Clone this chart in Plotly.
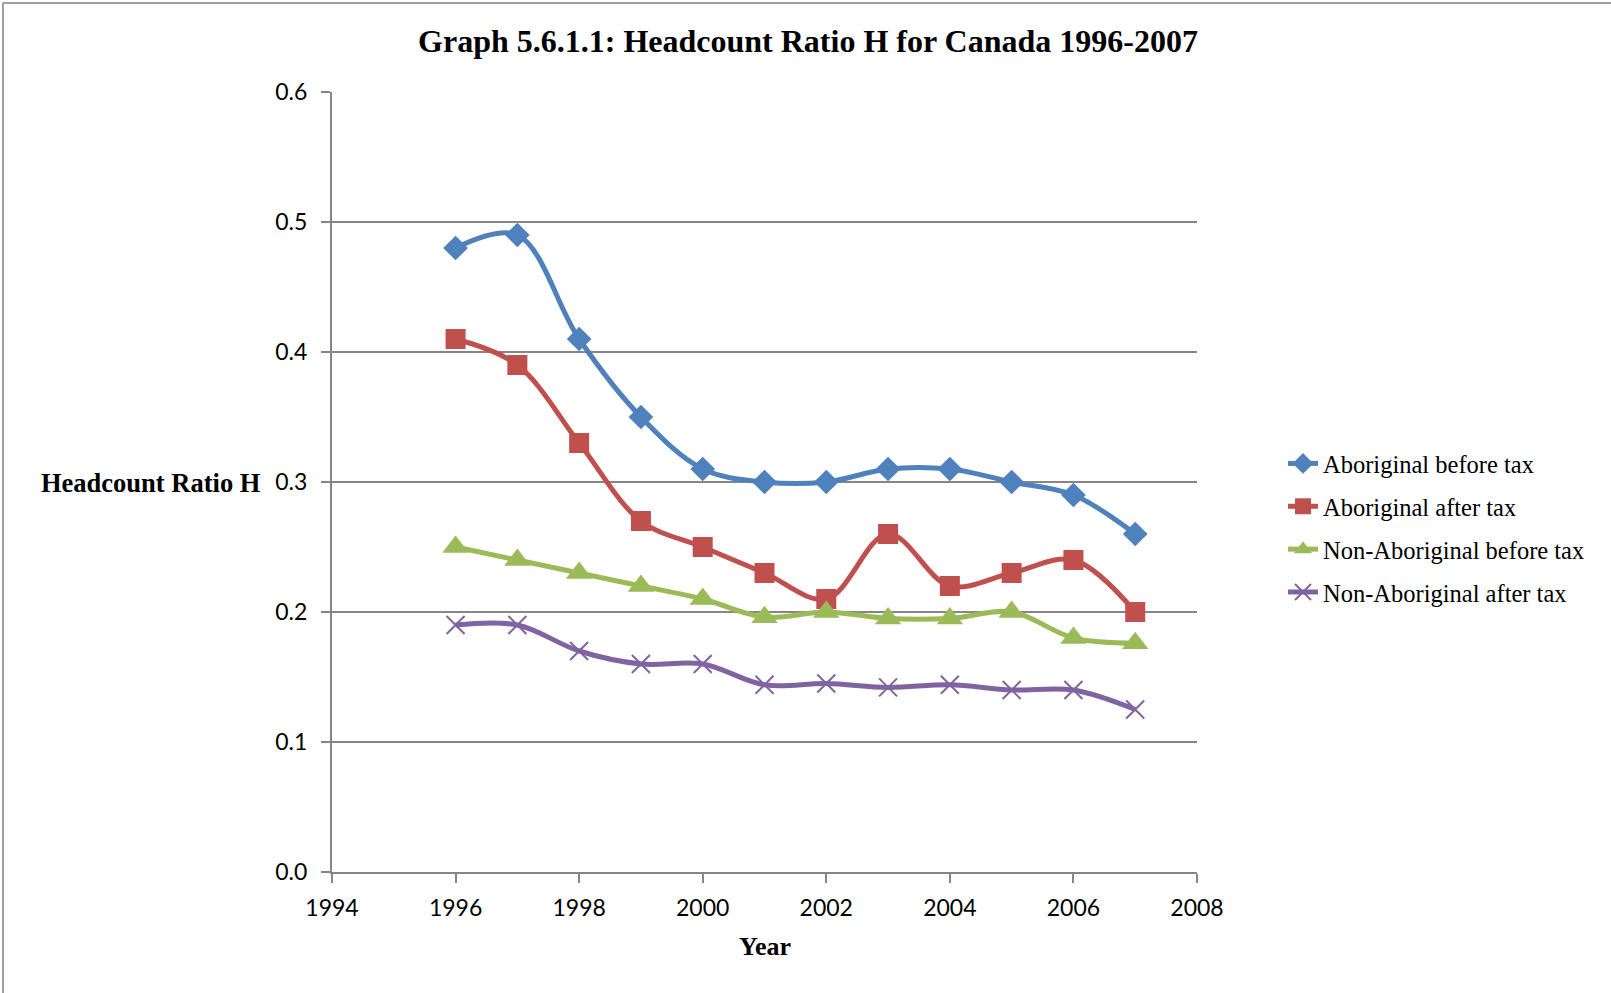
import plotly.graph_objects as go

years = [1996, 1997, 1998, 1999, 2000, 2001, 2002, 2003, 2004, 2005, 2006, 2007]
aboriginal_before = [0.48, 0.49, 0.41, 0.35, 0.31, 0.30, 0.30, 0.31, 0.31, 0.30, 0.29, 0.26]
aboriginal_after = [0.41, 0.39, 0.33, 0.27, 0.25, 0.23, 0.21, 0.26, 0.22, 0.23, 0.24, 0.20]
non_aboriginal_before = [0.25, 0.24, 0.23, 0.22, 0.21, 0.196, 0.20, 0.195, 0.195, 0.20, 0.18, 0.176]
non_aboriginal_after = [0.19, 0.19, 0.17, 0.16, 0.16, 0.144, 0.145, 0.142, 0.144, 0.14, 0.14, 0.125]

series_names = ["Aboriginal before tax", "Aboriginal after tax",
                "Non-Aboriginal before tax", "Non-Aboriginal after tax"]
series_values = [aboriginal_before, aboriginal_after, non_aboriginal_before, non_aboriginal_after]
colors = ["#4F81BD", "#C0504D", "#9BBB59", "#8064A2"]
symbols = ["diamond", "square", "triangle-up", "x-thin"]
sizes = [19, 20, 23, 18]

title_text = "Graph 5.6.1.1: Headcount Ratio H for Canada 1996-2007"
y_title = "Headcount Ratio H"
x_title = "Year"

W, H = 1611, 993
L, R, T, B = 332, 1611 - 1197, 92, 993 - 872
pw, ph = W - L - R, H - T - B

fig = go.Figure()
for i, (name, vals) in enumerate(zip(series_names, series_values)):
    marker = dict(symbol=symbols[i], size=sizes[i], color=colors[i])
    if symbols[i] == "x-thin":
        marker["line"] = dict(color=colors[i], width=2)
    else:
        marker["line"] = dict(width=0)
    fig.add_trace(go.Scatter(
        x=years, y=vals, name=name, mode="lines+markers",
        line=dict(color=colors[i], width=5, shape="spline", smoothing=1.0),
        marker=marker, legendgroup=f"g{i}",
    ))

axis_col = "#868686"
tick_font = dict(family="Lato, Open Sans, sans-serif", size=23, color="#000")
fig.update_xaxes(range=[1994, 2008], dtick=2, tick0=1994, showgrid=False,
                 showline=True, linecolor=axis_col, linewidth=2,
                 ticks="outside", ticklen=9, tickcolor=axis_col, tickwidth=1.5,
                 tickfont=tick_font, ticklabelstandoff=5, zeroline=False)
fig.update_yaxes(range=[0, 0.6], dtick=0.1, tickformat=".1f", showgrid=True,
                 gridcolor=axis_col, gridwidth=1.5,
                 showline=True, linecolor=axis_col, linewidth=2,
                 ticks="outside", ticklen=9, tickcolor=axis_col, tickwidth=1.5,
                 tickfont=tick_font, ticklabelstandoff=9, zeroline=False)

def px_x(p):
    return (p - L) / pw

def px_y(p):
    return (H - B - p) / ph

serif = "Liberation Serif, Times New Roman, serif"
fig.update_layout(
    width=W, height=H,
    margin=dict(l=L, r=R, t=T, b=B, autoexpand=False),
    paper_bgcolor="white", plot_bgcolor="white",
    title=dict(text="<b>" + title_text + "</b>", x=px_x(808), xref="paper", xanchor="center",
               y=1 - 41 / H, yanchor="middle",
               font=dict(family=serif, size=32, color="#000")),
    showlegend=True,
    legend=dict(x=px_x(1283), y=px_y(441), xanchor="left", yanchor="top",
                font=dict(family=serif, size=24.5, color="#000"),
                tracegroupgap=8, bgcolor="rgba(0,0,0,0)", itemwidth=30),
    annotations=[
        dict(text="<b>" + y_title + "</b>", xref="paper", yref="paper",
             x=px_x(263), y=px_y(483), xanchor="right", yanchor="middle", showarrow=False,
             font=dict(family=serif, size=26.5, color="#000")),
        dict(text="<b>" + x_title + "</b>", xref="paper", yref="paper",
             x=px_x(765), y=px_y(946), xanchor="center", yanchor="middle", showarrow=False,
             font=dict(family=serif, size=26, color="#000")),
    ],
    shapes=[
        dict(type="line", xref="paper", yref="paper", x0=px_x(3), x1=px_x(1700),
             y0=px_y(3), y1=px_y(3), line=dict(color="#A0A0A0", width=2)),
        dict(type="line", xref="paper", yref="paper", x0=px_x(3), x1=px_x(3),
             y0=px_y(3), y1=px_y(1100), line=dict(color="#A0A0A0", width=2)),
    ],
)

fig.write_html("out.html")
